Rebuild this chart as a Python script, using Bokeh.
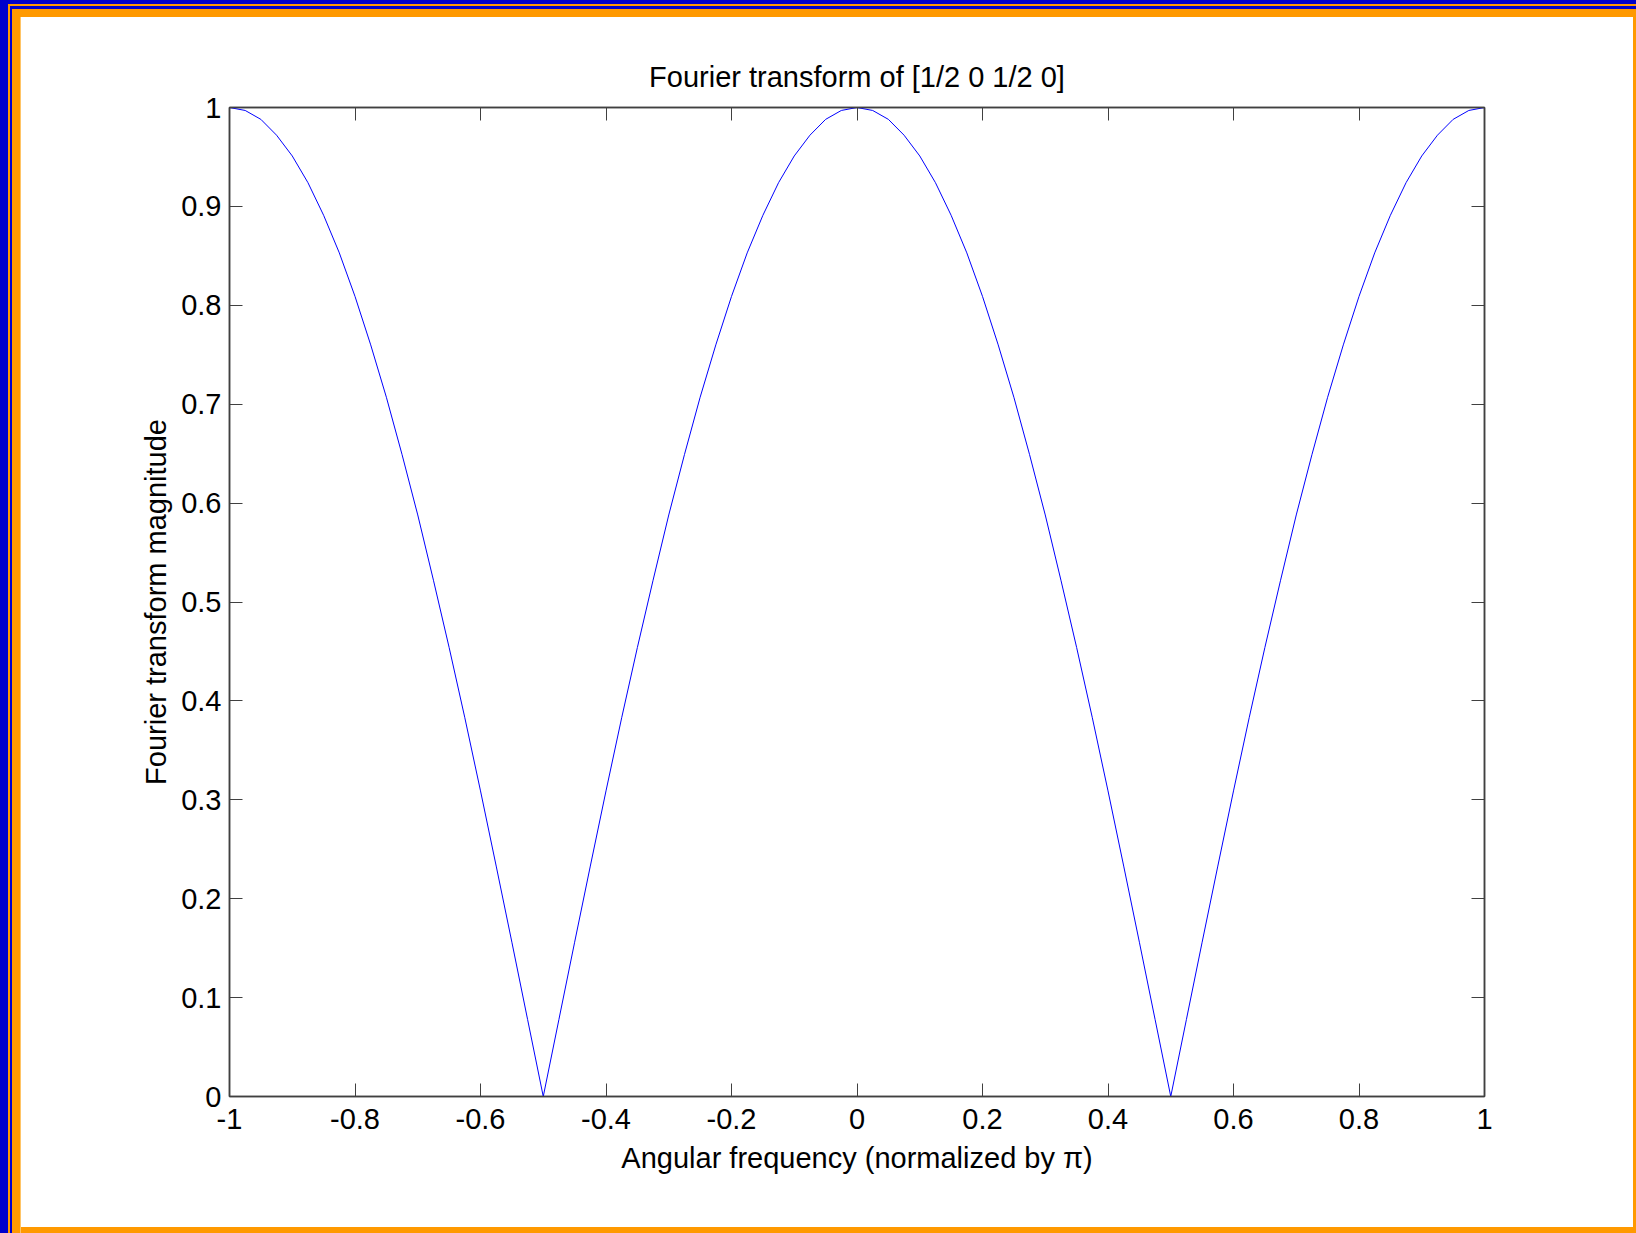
import numpy as np
from bokeh.plotting import figure
from bokeh.models import Range1d, LinearAxis, FixedTicker, ColumnDataSource
from bokeh.embed import file_html
from bokeh.resources import INLINE

# |H(w)| of the sequence [1/2 0 1/2 0], sampled every 0.025 (normalized by pi)
freq = np.linspace(-1.0, 1.0, 81)
magnitude = [
    1.000, 0.997, 0.988, 0.972, 0.951, 0.924, 0.891, 0.853, 0.809, 0.760,
    0.707, 0.649, 0.588, 0.522, 0.454, 0.383, 0.309, 0.233, 0.156, 0.078,
    0.000,
    0.078, 0.156, 0.233, 0.309, 0.383, 0.454, 0.522, 0.588, 0.649, 0.707,
    0.760, 0.809, 0.853, 0.891, 0.924, 0.951, 0.972, 0.988, 0.997, 1.000,
    0.997, 0.988, 0.972, 0.951, 0.924, 0.891, 0.853, 0.809, 0.760, 0.707,
    0.649, 0.588, 0.522, 0.454, 0.383, 0.309, 0.233, 0.156, 0.078, 0.000,
    0.078, 0.156, 0.233, 0.309, 0.383, 0.454, 0.522, 0.588, 0.649, 0.707,
    0.760, 0.809, 0.853, 0.891, 0.924, 0.951, 0.972, 0.988, 0.997, 1.000,
]

x_ticks = [-1.0, -0.8, -0.6, -0.4, -0.2, 0.0, 0.2, 0.4, 0.6, 0.8, 1.0]
x_tick_labels = ["-1", "-0.8", "-0.6", "-0.4", "-0.2", "0", "0.2", "0.4", "0.6", "0.8", "1"]
y_ticks = [0.0, 0.1, 0.2, 0.3, 0.4, 0.5, 0.6, 0.7, 0.8, 0.9, 1.0]
y_tick_labels = ["0", "0.1", "0.2", "0.3", "0.4", "0.5", "0.6", "0.7", "0.8", "0.9", "1"]

title_text = "Fourier transform of [1/2 0 1/2 0]"
x_label = "Angular frequency (normalized by \u03c0)"
y_label = "Fourier transform magnitude"

FONT = "Liberation Sans"
FS = "29px"
AXIS_COLOR = "#404040"
BLUE = "#0000cc"
ORANGE = "#ff9900"
LIGHT_ORANGE = "#ffc466"
W, H = 1636, 1233

p = figure(width=W, height=H, x_range=Range1d(-1, 1), y_range=Range1d(0, 1),
           output_backend="svg", toolbar_location=None,
           min_border_left=229, min_border_right=W - 1484,
           min_border_top=107, min_border_bottom=H - 1096,
           background_fill_color="white",
           border_fill_color="white", border_fill_alpha=0.0)

# slide frame drawn by the page element behind the transparent border:
# blue/orange bands along the top and left, thin orange on right and bottom
p.styles = {
    "background-color": "white",
    "box-shadow": ", ".join([
        f"inset 8px 4px 0 0 {BLUE}",
        f"inset 10px 6px 0 0 {ORANGE}",
        f"inset 12px 9px 0 0 {BLUE}",
        f"inset 20px 17px 0 0 {ORANGE}",
        f"inset 21px 17px 0 0 {LIGHT_ORANGE}",
        f"inset -3px -6px 0 0 {ORANGE}",
    ]),
}

p.title.text = title_text
p.title.text_font = FONT
p.title.text_font_size = FS
p.title.text_font_style = "normal"
p.title.text_color = "black"
p.title.align = "center"
p.title.standoff = 30

p.outline_line_color = AXIS_COLOR
p.outline_line_width = 1.5
p.xgrid.visible = False
p.ygrid.visible = False


def style_axis(ax, ticks, labels, show_labels):
    ax.ticker = FixedTicker(ticks=ticks)
    ax.minor_tick_line_color = None
    ax.major_tick_in = 13
    ax.major_tick_out = 0
    ax.major_tick_line_color = AXIS_COLOR
    ax.major_tick_line_width = 1
    ax.axis_line_color = AXIS_COLOR
    ax.axis_line_width = 1.5
    if show_labels:
        ax.major_label_overrides = {t: s for t, s in zip(ticks, labels)}
        ax.major_label_text_font = FONT
        ax.major_label_text_font_size = FS
        ax.major_label_text_color = "black"
    else:
        ax.major_label_text_font_size = "0px"
        ax.major_label_text_color = None
        ax.major_label_standoff = 0


xa = p.xaxis[0]
ya = p.yaxis[0]
style_axis(xa, x_ticks, x_tick_labels, True)
style_axis(ya, y_ticks, y_tick_labels, True)
xa.major_label_standoff = 12
ya.major_label_standoff = 8
xa.axis_label = x_label
ya.axis_label = y_label
for ax in (xa, ya):
    ax.axis_label_text_font = FONT
    ax.axis_label_text_font_size = FS
    ax.axis_label_text_font_style = "normal"
    ax.axis_label_text_color = "black"
xa.axis_label_standoff = 10
ya.axis_label_standoff = 6

# mirrored tick marks on the top and right edges of the box
top_ax = LinearAxis()
right_ax = LinearAxis()
style_axis(top_ax, x_ticks, x_tick_labels, False)
style_axis(right_ax, y_ticks, y_tick_labels, False)
p.add_layout(top_ax, "above")
p.add_layout(right_ax, "right")

src = ColumnDataSource(data=dict(freq=freq, magnitude=magnitude))
p.line("freq", "magnitude", source=src, line_color="#0000ff", line_width=1)

open("out.html", "w").write(file_html(p, INLINE))
